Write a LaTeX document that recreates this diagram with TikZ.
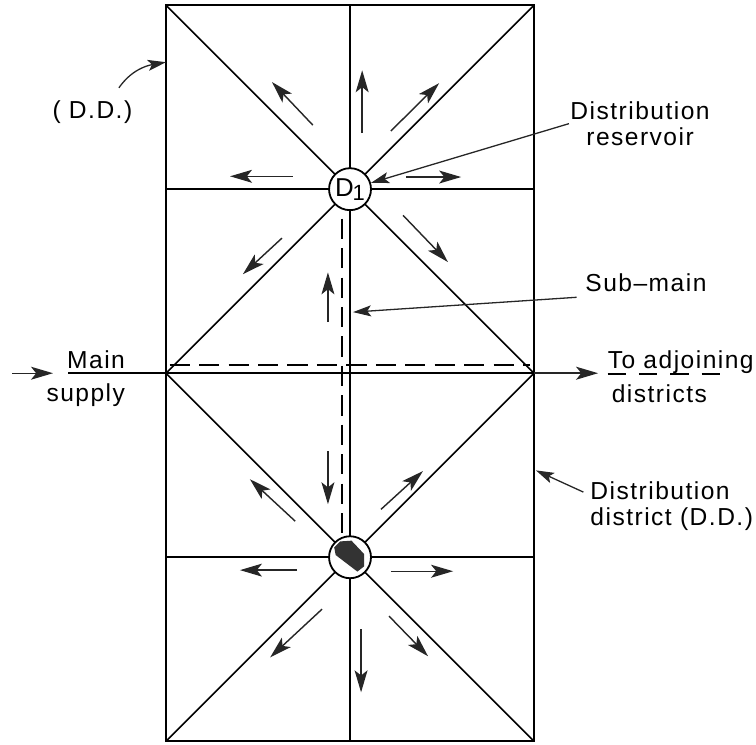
\documentclass[tikz,border=0pt]{standalone}
\usepackage{fontspec}
\setmainfont{Liberation Sans}[LetterSpace=6]
\usetikzlibrary{arrows.meta}

\begin{document}
\begin{tikzpicture}[
  wall/.style={line width=1.5pt},
  diag/.style={line width=1.2pt},
  pipe/.style={line width=1.3pt, dash pattern=on 0.55cm off 0.25cm},
  flow/.style={-{Stealth[length=17pt,width=10pt,inset=4pt]}, line width=1.1pt, black!85},
  lead/.style={-{Stealth[length=14pt,width=8.5pt,inset=3pt]}, line width=1pt, black!85},
  lbl/.style={font=\fontsize{19}{19.5}\selectfont, align=center, inner sep=1pt},
  resv/.style={draw, circle, line width=1.4pt, fill=white, minimum size=1.14cm, inner sep=0pt},
]
\useasboundingbox (-4.51,-0.08) rectangle (16.03,20.14);

% Outline of the district and the grid
\draw[wall] (0,0) rectangle (10,20);
\draw[wall] (5,0) -- (5,20);
\draw[wall] (0,15) -- (10,15);
\draw[wall] (0,5) -- (10,5);

% Diagonals (two squares)
\draw[diag] (0,20) -- (10,10);
\draw[diag] (10,20) -- (0,10);
\draw[diag] (0,10) -- (10,0);
\draw[diag] (10,10) -- (0,0);

% Sub-main (dashed)
\draw[pipe] (0.1,10.22) -- (9.9,10.22);
\draw[pipe] (4.78,15) -- (4.78,5);

% === Main line ===
\coordinate (inlet) at (-4.18,10);
\coordinate (inhead) at (-3.07,10);
\coordinate (mainstart) at (-2.66,10);
\coordinate (outhead) at (11.74,10);
\draw[flow] (inlet) -- (inhead);
\draw[wall] (mainstart) -- (10,10);
\draw[flow, line width=1.3pt] (10,10) -- (outhead);
\draw[pipe, line width=1.1pt, dash pattern=on 0.5cm off 0.35cm] (12.0,9.98) -- (15.4,9.98);

\node[lbl, anchor=base] (mainlbl) at (-1.90,10.14) {Main};
\node[lbl, anchor=base] (supplbl) at (-2.18,9.24) {supply};
\node[lbl, anchor=base west] (tolbl) at (11.96,10.14) {To adjoining};
\node[lbl, anchor=base west] (distrlbl) at (12.07,9.21) {districts};

% === Reservoirs ===
\node[resv] (D1) at (5,15) {\fontsize{20}{20}\selectfont D\kern-1pt\raisebox{-0.3ex}{\fontsize{17}{17}\selectfont 1}};
\node[resv] (D2) at (5,5) {};
\fill[shift={(D2.center)}, black!80] (-0.43,0.27) -- (-0.27,0.43) -- (0.04,0.45) -- (0.38,0.09)
  -- (0.38,-0.25) -- (0.2,-0.39) -- (-0.39,0.06) -- cycle;

% Flow from D1
\draw[flow] (3.99,16.74) -- (2.88,17.91);
\draw[flow] (5.33,16.52) -- (5.33,18.23);
\draw[flow] (6.11,16.58) -- (7.42,17.88);
\draw[flow] (3.45,15.35) -- (1.74,15.35);
\draw[flow] (6.52,15.33) -- (8.02,15.33);
\draw[flow] (3.15,13.67) -- (2.09,12.69);
\draw[flow] (6.44,14.29) -- (7.66,13.02);
\draw[flow] (4.40,11.39) -- (4.40,12.74);

% Flow from D2
\draw[flow] (4.40,7.88) -- (4.40,6.44);
\draw[flow] (3.51,5.98) -- (2.28,7.12);
\draw[flow] (3.56,4.65) -- (2.01,4.65);
\draw[flow] (4.24,3.59) -- (2.83,2.28);
\draw[flow] (5.30,3.04) -- (5.30,1.33);
\draw[flow] (5.84,6.30) -- (6.98,7.34);
\draw[flow] (6.11,4.62) -- (7.80,4.62);
\draw[flow] (6.06,3.40) -- (7.12,2.31);

% === Labels with leaders ===
\node[lbl] (ddlbl) at (-2.0,17.1) {( D.D.)};
\coordinate (ddedge) at (0,18.45);
\draw[lead] ([shift={(0.72,0.3)}]ddlbl.north) to[out=55, in=190] (ddedge);

\node[lbl] (resvlbl) at (12.88,16.78) {Distribution\\reservoir};
\draw[lead] (resvlbl.west) -- (D1);

\node[lbl] (sublbl) at (13.04,12.45) {Sub--main};
\coordinate (subpipe) at (5.08,11.66);
\draw[lead] ([shift={(-0.2,-0.1)}]sublbl.south west) -- (subpipe);

\node[lbl, align=left, anchor=west] (distlbl) at (11.49,6.39) {Distribution\\district (D.D.)};
\coordinate (distedge) at (10.05,7.36);
\draw[lead] ([shift={(-0.15,0.38)}]distlbl.west) -- (distedge);

\end{tikzpicture}
\end{document}
